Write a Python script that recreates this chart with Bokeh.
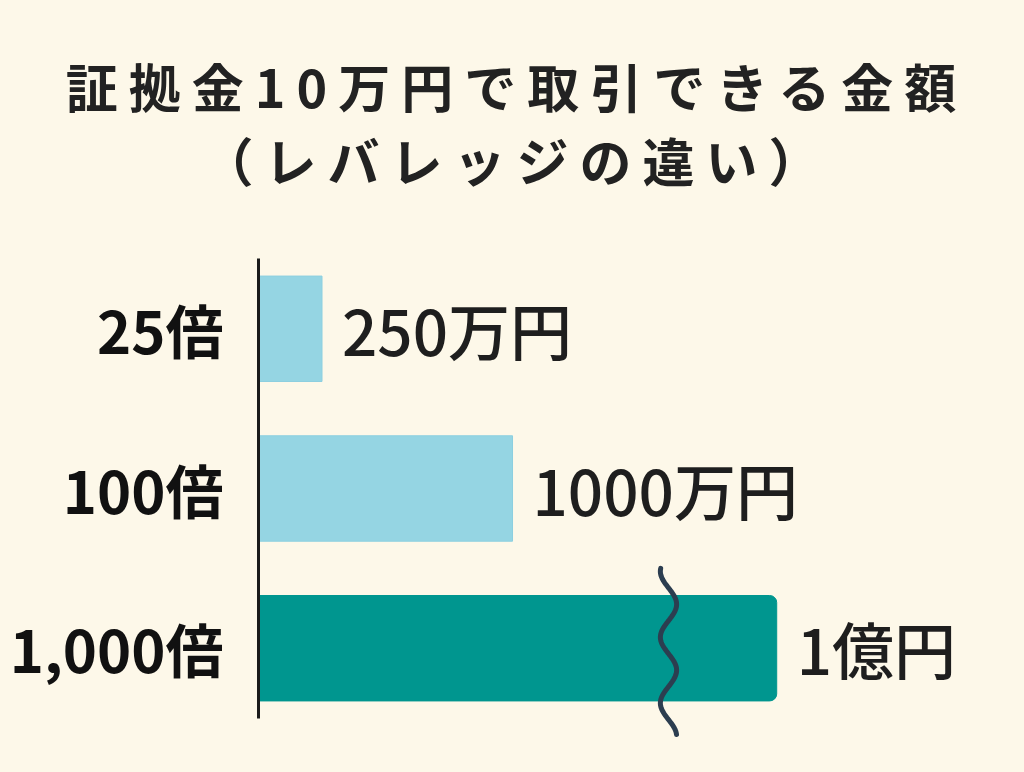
import numpy as np
from bokeh.plotting import figure
from bokeh.models import FactorRange, Range1d, ColumnDataSource, Div
from bokeh.layouts import column
from bokeh.core.properties import value
from bokeh.embed import file_html
from bokeh.resources import INLINE

# ---- data ----
leverage = ["25倍", "100倍", "1,000倍"]
amount_man = [250, 1000, 10000]          # 取引できる金額（万円）
amount_labels = ["250万円", "1000万円", "1億円"]
title_lines = ["証拠金10万円で取引できる金額", "（レバレッジの違い）"]

# ---- style / layout constants ----
BG = "#FDF8E9"
LIGHT = "#95D5E3"
TEAL = "#00968F"
INK = "#1E1E1E"
WAVE = "#2C3E50"
JP = "Noto Sans CJK JP"
BREAK_CAP = 2040      # broken-axis display length (万円)
WAVE_X = 1614         # position of the break mark (万円)

disp = [min(v, BREAK_CAP) for v in amount_man]
broken = [v > BREAK_CAP for v in amount_man]

light_src = ColumnDataSource(dict(
    y=[c for c, b in zip(leverage, broken) if not b],
    right=[d for d, b in zip(disp, broken) if not b]))
teal_src = ColumnDataSource(dict(
    y=[c for c, b in zip(leverage, broken) if b],
    right=[d for d, b in zip(disp, broken) if b]))
label_src = ColumnDataSource(dict(x=disp, y=leverage, text=amount_labels))

title = Div(
    text=(f'<div style="width:1008px;text-align:center;font-family:\'{JP}\';'
          f'font-weight:700;font-size:52px;line-height:74px;letter-spacing:11px;'
          f'color:#222;padding-top:44px;padding-left:15px;box-sizing:border-box;">'
          f'{title_lines[0]}<br>{title_lines[1]}</div>'),
    width=1008, height=200)

p = figure(width=1008, height=556,
           y_range=FactorRange(factors=leverage[::-1], range_padding=-0.06,
                               range_padding_units="absolute"),
           x_range=Range1d(0, 2921),
           output_backend="svg", toolbar_location=None,
           min_border_left=258, min_border_right=8,
           min_border_top=48, min_border_bottom=48)
p.title.visible = False
p.background_fill_color = BG
p.border_fill_color = BG
p.outline_line_color = None
p.grid.visible = False
p.xaxis.visible = False

ax = p.yaxis[0]
ax.axis_line_width = 3
ax.axis_line_color = "#1A1A1A"
ax.major_tick_line_color = None
ax.minor_tick_line_color = None
ax.major_label_standoff = 29
ax.major_label_text_font = JP
ax.major_label_text_font_style = "bold"
ax.major_label_text_font_size = "58px"
ax.major_label_text_color = "#111111"

p.hbar(y="y", left=0, right="right", height=0.66, source=light_src,
       fill_color=LIGHT, line_color="#8CCFE0", line_width=1)
p.hbar(y="y", left=0, right="right", height=0.66, source=teal_src,
       fill_color=TEAL, line_color=TEAL, line_width=1,
       border_radius=(0, 7, 7, 0))

p.text(x="x", y="y", text="text", source=label_src,
       text_font=value("Noto Sans CJK JP Medium"), text_font_size="62px",
       text_color=INK, text_align="left", text_baseline="middle", x_offset=20)

# break mark (decorative wave)
t = np.linspace(0, 1, 120)
offs = 0.5 - 1.04 * t                      # from above to below the bar
px = (0.5 - offs) * 160                    # pixel distance from top of mark
wx = WAVE_X + 32 * np.sin(2 * np.pi * (px - 19.5) / 66)
cat = [c for c, b in zip(leverage, broken) if b][0]
wave_src = ColumnDataSource(dict(x=wx, y=[(cat, float(o)) for o in offs]))
r = p.line(x="x", y="y", source=wave_src, line_color=WAVE, line_width=5,
           line_cap="round")
r.level = "overlay"

layout = column(title, p, spacing=0, styles={"background-color": BG})
html = file_html(layout, INLINE)
html = html.replace("</head>",
                    f"<style>body{{background:{BG};}}</style></head>", 1)
open("out.html", "w").write(html)
